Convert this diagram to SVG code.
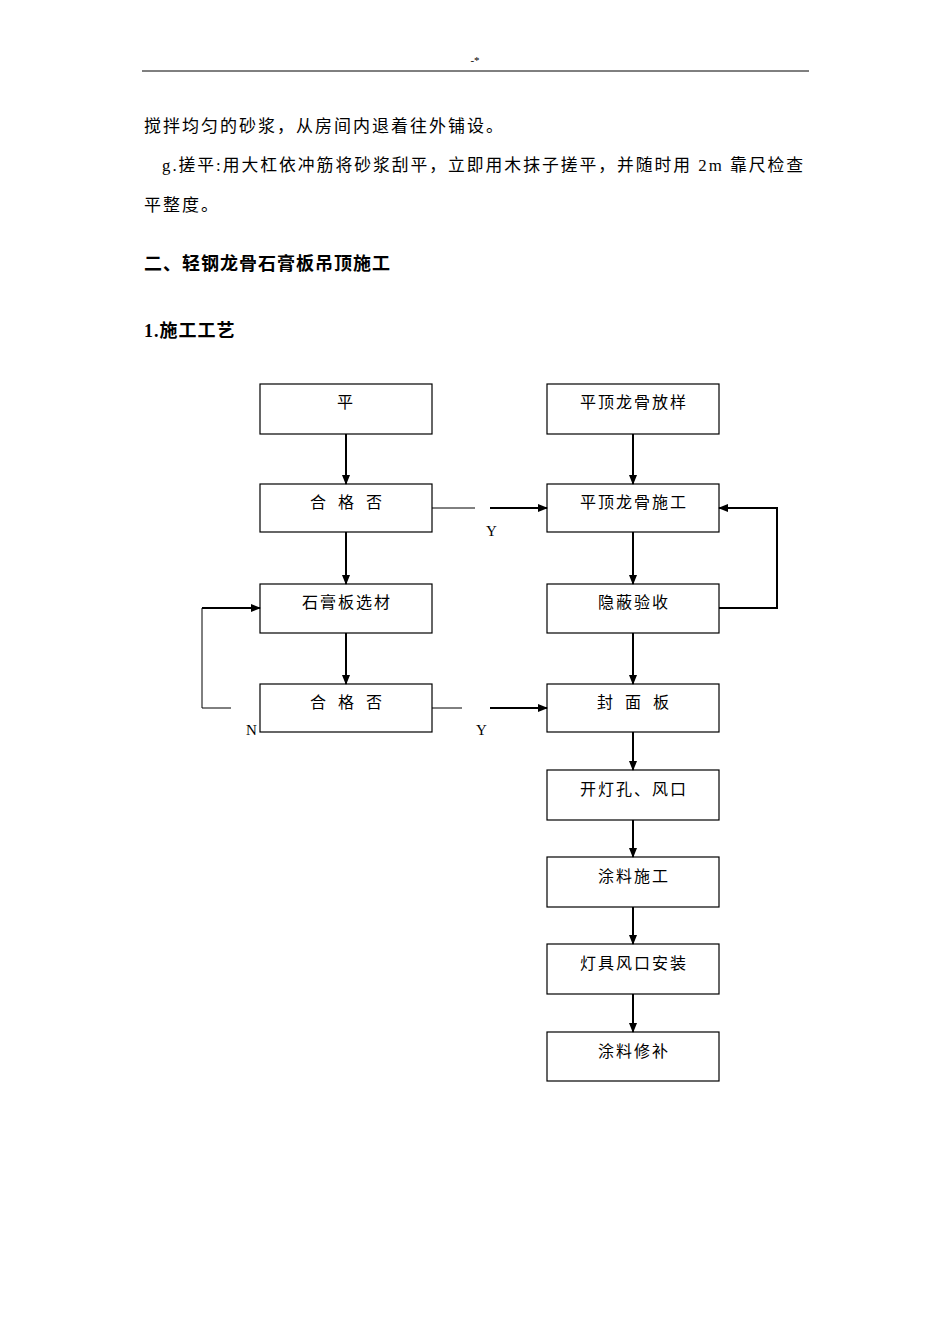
<svg xmlns="http://www.w3.org/2000/svg" width="950" height="1344" viewBox="0 0 950 1344">
<style>
text{font-family:"Liberation Serif","Noto Sans CJK SC",serif;fill:#000}
.p{font-size:17px;letter-spacing:2px}
.h{font-size:18px;font-weight:bold;letter-spacing:1px}
.b{fill:#fff;stroke:#000;stroke-width:1.2}
.n{font-size:16px;text-anchor:middle;letter-spacing:2px}
.w{letter-spacing:12px}
.c{stroke:#000;stroke-width:2;fill:none}
.t{stroke:#000;stroke-width:1;fill:none}
.l{font-size:15px}
</style>
<defs><marker id="a" markerWidth="10" markerHeight="8" refX="9" refY="4" orient="auto" markerUnits="userSpaceOnUse"><path d="M0,0L10,4L0,8z" fill="#000"/></marker></defs>
<text x="475" y="64" font-size="11" text-anchor="middle">-*</text>
<line x1="142" y1="71" x2="809" y2="71" stroke="#000" stroke-width="1"/>
<text class="p" x="144" y="132">搅拌均匀的砂浆，从房间内退着往外铺设。</text>
<text class="p" x="162" y="171" textLength="643" lengthAdjust="spacingAndGlyphs">g.搓平:用大杠依冲筋将砂浆刮平，立即用木抹子搓平，并随时用 2m 靠尺检查</text>
<text class="p" x="144" y="211">平整度。</text>
<text class="h" x="144" y="270">二、轻钢龙骨石膏板吊顶施工</text>
<text class="h" x="144" y="337">1.施工工艺</text>
<g id="n1"><rect class="b" x="260" y="384" width="172" height="50"/><text class="n" x="346" y="408">平</text></g>
<g id="n2"><rect class="b" x="260" y="484" width="172" height="48"/><text class="n w" x="352" y="508">合格否</text></g>
<g id="n3"><rect class="b" x="260" y="584" width="172" height="49"/><text class="n" x="347" y="608">石膏板选材</text></g>
<g id="n4"><rect class="b" x="260" y="684" width="172" height="48"/><text class="n w" x="352" y="708">合格否</text></g>
<g id="r1"><rect class="b" x="547" y="384" width="172" height="50"/><text class="n" x="634" y="408">平顶龙骨放样</text></g>
<g id="r2"><rect class="b" x="547" y="484" width="172" height="48"/><text class="n" x="634" y="508">平顶龙骨施工</text></g>
<g id="r3"><rect class="b" x="547" y="584" width="172" height="49"/><text class="n" x="634" y="608">隐蔽验收</text></g>
<g id="r4"><rect class="b" x="547" y="684" width="172" height="48"/><text class="n w" x="639" y="708">封面板</text></g>
<g id="r5"><rect class="b" x="547" y="770" width="172" height="50"/><text class="n" x="634" y="795">开灯孔、风口</text></g>
<g id="r6"><rect class="b" x="547" y="857" width="172" height="50"/><text class="n" x="634" y="882">涂料施工</text></g>
<g id="r7"><rect class="b" x="547" y="944" width="172" height="50"/><text class="n" x="634" y="969">灯具风口安装</text></g>
<g id="r8"><rect class="b" x="547" y="1032" width="172" height="49"/><text class="n" x="634" y="1057">涂料修补</text></g>
<g id="connectors">
<line class="c" x1="346" y1="434" x2="346" y2="484" marker-end="url(#a)"/>
<line class="c" x1="346" y1="532" x2="346" y2="584" marker-end="url(#a)"/>
<line class="c" x1="346" y1="633" x2="346" y2="684" marker-end="url(#a)"/>
<line class="c" x1="633" y1="434" x2="633" y2="484" marker-end="url(#a)"/>
<line class="c" x1="633" y1="532" x2="633" y2="584" marker-end="url(#a)"/>
<line class="c" x1="633" y1="633" x2="633" y2="684" marker-end="url(#a)"/>
<line class="c" x1="633" y1="732" x2="633" y2="770" marker-end="url(#a)"/>
<line class="c" x1="633" y1="820" x2="633" y2="857" marker-end="url(#a)"/>
<line class="c" x1="633" y1="907" x2="633" y2="944" marker-end="url(#a)"/>
<line class="c" x1="633" y1="994" x2="633" y2="1032" marker-end="url(#a)"/>
<line class="t" x1="432" y1="508" x2="475" y2="508"/>
<line class="c" x1="490" y1="508" x2="547" y2="508" marker-end="url(#a)"/>
<line class="t" x1="432" y1="708" x2="462" y2="708"/>
<line class="c" x1="490" y1="708" x2="547" y2="708" marker-end="url(#a)"/>
<polyline class="t" points="231,708 202,708 202,608"/>
<line class="c" x1="202" y1="608" x2="260" y2="608" marker-end="url(#a)"/>
<polyline class="c" points="719,608 777,608 777,508 719,508" marker-end="url(#a)"/>
<text class="l" x="486" y="536">Y</text>
<text class="l" x="476" y="735">Y</text>
<text class="l" x="246" y="735">N</text>
</g>
</svg>
